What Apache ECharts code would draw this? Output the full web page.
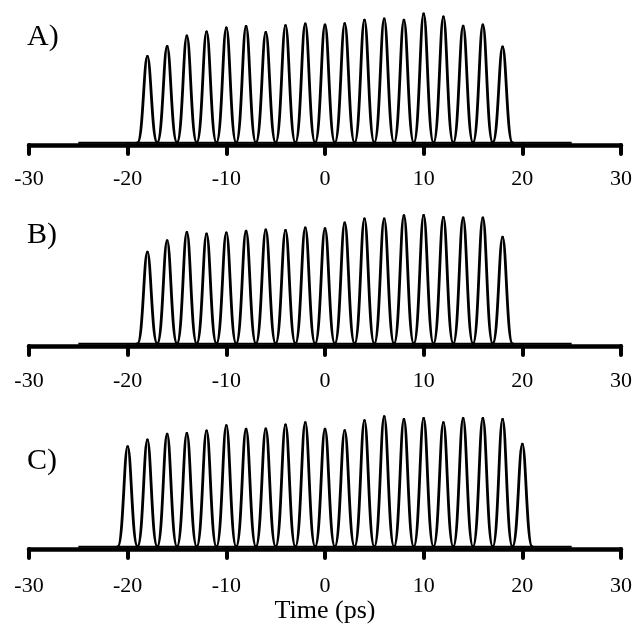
<!DOCTYPE html>
<html><head><meta charset="utf-8">
<script src="https://cdn.jsdelivr.net/npm/echarts@6/dist/echarts.min.js"></script>
<style>html,body{margin:0;padding:0;background:#fff}#c{width:642px;height:631px}</style>
</head><body><div id="c"></div>
<script>
// ---- data ----
const xTickValues = [-30, -20, -10, 0, 10, 20, 30];
const panelLabels = ['A)', 'B)', 'C)'];
const xAxisTitle = 'Time (ps)';
const peakTimesAB = [-18, -16, -14, -12, -10, -8, -6, -4, -2, 0, 2, 4, 6, 8, 10, 12, 14, 16, 18];
const peakTimesC = [-20, -18, -16, -14, -12, -10, -8, -6, -4, -2, 0, 2, 4, 6, 8, 10, 12, 14, 16, 18, 20];
const peaksA = [0.676, 0.752, 0.832, 0.863, 0.893, 0.905, 0.859, 0.912, 0.924, 0.916, 0.927, 0.954, 0.962, 0.954, 1.000, 0.977, 0.908, 0.916, 0.748];
const peaksB = [0.716, 0.805, 0.868, 0.855, 0.863, 0.876, 0.886, 0.883, 0.901, 0.896, 0.939, 0.970, 0.970, 0.995, 0.997, 0.982, 0.977, 0.977, 0.830];
const peaksC = [0.782, 0.832, 0.876, 0.883, 0.901, 0.942, 0.914, 0.916, 0.947, 0.964, 0.914, 0.904, 0.980, 1.010, 0.990, 0.997, 0.964, 0.997, 0.997, 0.990, 0.800];
const baselineSpan = [-25, 25];   // recorded window (ps)
const baselineLevel = 0.018;      // background level between pulses

// ---- chart ----
const chart = echarts.init(document.getElementById('c'), null, {renderer: 'canvas'});
const SERIF = '"Liberation Serif", "DejaVu Serif", serif';

const panels = [
  {times: peakTimesAB, peaks: peaksA, top: 14, margin: 23, labelTop: 22},
  {times: peakTimesAB, peaks: peaksB, top: 215, margin: 24, labelTop: 220},
  {times: peakTimesC, peaks: peaksC, top: 418, margin: 26, labelTop: 446}
];

function renderPulse(params, api) {
  const t = api.value(0), h = api.value(1);
  const b = baselineLevel;
  const L0 = api.coord([t - 1, b]), Lc1 = api.coord([t - 0.45, b]), Lc2 = api.coord([t - 0.35, h]);
  const P = api.coord([t, h]);
  const Rc1 = api.coord([t + 0.35, h]), Rc2 = api.coord([t + 0.45, b]), R0 = api.coord([t + 1, b]);
  const style = {stroke: '#000', lineWidth: 2.8, fill: null, lineCap: 'round', lineJoin: 'round'};
  return {
    type: 'group',
    children: [
      {type: 'bezierCurve', shape: {x1: L0[0], y1: L0[1], cpx1: Lc1[0], cpy1: Lc1[1], cpx2: Lc2[0], cpy2: Lc2[1], x2: P[0], y2: P[1]}, style: style},
      {type: 'bezierCurve', shape: {x1: P[0], y1: P[1], cpx1: Rc1[0], cpy1: Rc1[1], cpx2: Rc2[0], cpy2: Rc2[1], x2: R0[0], y2: R0[1]}, style: style}
    ]
  };
}

const grids = [], xAxes = [], yAxes = [], series = [], graphics = [];
panels.forEach((p, i) => {
  grids.push({left: 29, width: 592, top: p.top, height: 131});
  const ax = {
    gridIndex: i, type: 'value', min: xTickValues[0], max: xTickValues[xTickValues.length - 1],
    interval: xTickValues[1] - xTickValues[0],
    axisLine: {onZero: false, lineStyle: {color: '#000', width: 4.5, cap: 'round'}},
    axisTick: {show: true, inside: false, length: 9, lineStyle: {color: '#000', width: 4, cap: 'round'}},
    axisLabel: {color: '#000', fontFamily: SERIF, fontSize: 22, margin: p.margin},
    splitLine: {show: false}
  };
  if (i === 2) {
    ax.name = xAxisTitle;
    ax.nameLocation = 'middle';
    ax.nameGap = 32;
    ax.nameTextStyle = {color: '#000', fontFamily: SERIF, fontSize: 26};
  }
  xAxes.push(ax);
  yAxes.push({gridIndex: i, type: 'value', min: 0, max: 1, show: false});
  series.push({
    type: 'line', xAxisIndex: i, yAxisIndex: i, symbol: 'none', silent: true,
    data: baselineSpan.map(x => [x, baselineLevel]),
    lineStyle: {color: '#000', width: 2}
  });
  series.push({
    type: 'custom', xAxisIndex: i, yAxisIndex: i, renderItem: renderPulse,
    encode: {x: 0, y: 1}, silent: true,
    data: p.times.map((t, k) => [t, p.peaks[k]])
  });
  graphics.push({
    type: 'text', left: 27, top: p.labelTop,
    style: {text: panelLabels[i], fill: '#000', font: '30px ' + SERIF}
  });
});

chart.setOption({
  animation: false,
  backgroundColor: '#fff',
  grid: grids, xAxis: xAxes, yAxis: yAxes, series: series, graphic: graphics
});
</script>
</body></html>
